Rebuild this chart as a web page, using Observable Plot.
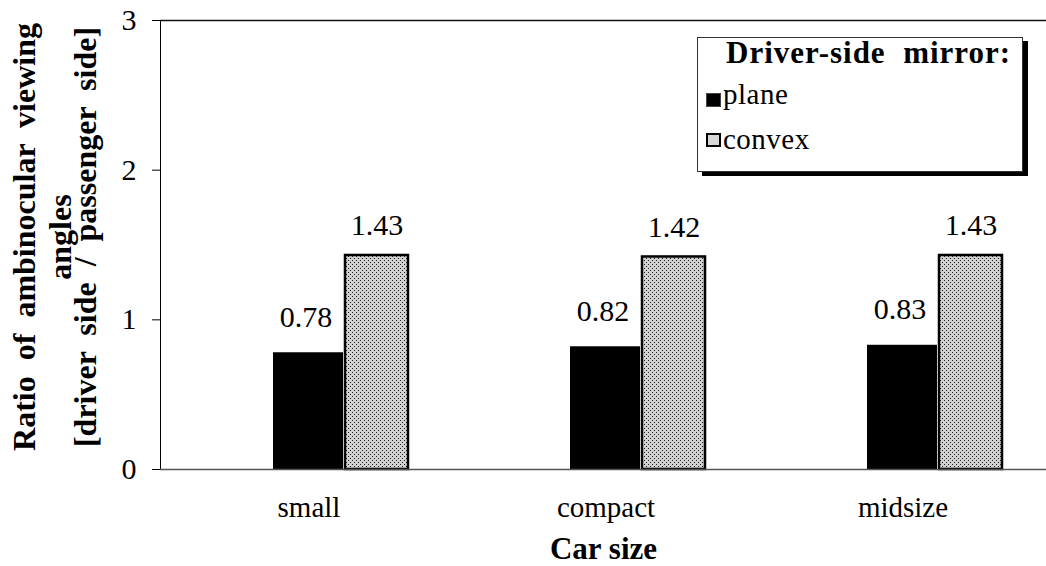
<!DOCTYPE html>
<html><head><meta charset="utf-8">
<script src="https://cdn.jsdelivr.net/npm/d3@7"></script>
<script src="https://cdn.jsdelivr.net/npm/@observablehq/plot@0.6"></script>
<style>
body{margin:0;background:#fff;}
#wrap{position:relative;width:1046px;height:566px;font-family:"Liberation Serif","Times New Roman",serif;color:#000;}
#wrap svg{position:absolute;left:0;top:0;}
#wrap svg text{font-family:"Liberation Serif","Times New Roman",serif;}
#legend{position:absolute;left:697px;top:37px;width:326px;height:135px;border:1px solid #333;box-shadow:5px 4px 0 #000;background:#fff;box-sizing:border-box;}
.lt{position:absolute;white-space:pre;line-height:1;}
.sw{position:absolute;width:15px;height:14px;box-sizing:border-box;}
</style>
</head><body>
<div id="wrap"></div>
<script>
const categories = ["small", "compact", "midsize"];
const seriesNames = ["plane", "convex"];
const planeValues = [0.78, 0.82, 0.83];
const convexValues = [1.43, 1.42, 1.43];
const yTicks = [0, 1, 2, 3];
const xTitle = "Car size";
const yTitleLines = ["Ratio  of  ambinocular  viewing", "angles", "[driver  side  /  passenger  side]"];
const legendTitle = "Driver-side  mirror:";

const rows = [];
categories.forEach((c, i) => {
  rows.push({cat: c, series: seriesNames[0], value: planeValues[i]});
  rows.push({cat: c, series: seriesNames[1], value: convexValues[i]});
});
const plane = rows.filter(d => d.series === "plane");
const convex = rows.filter(d => d.series === "convex");

const titleDx = [-136, -100, -75];
const titleMarks = yTitleLines.map((t, i) =>
  Plot.text([t], {frameAnchor: "left", textAnchor: "middle", lineAnchor: "middle", text: d => d, rotate: -90, dx: titleDx[i], dy: -8, fontSize: 32, fontWeight: "bold", fill: "#000"})
);

const font = "'Liberation Serif', 'Times New Roman', serif";
const chart = Plot.plot({
  width: 1046, height: 566,
  marginLeft: 160, marginRight: 0, marginTop: 20, marginBottom: 97,
  style: {fontFamily: font, background: "transparent", color: "#000"},
  x: {domain: categories, range: [194.5, 1085.5], padding: 0, label: null, tickSize: 0, tickPadding: 27},
  y: {domain: [0, 3], ticks: yTicks, label: null, tickSize: 8, tickPadding: 16, tickFormat: d3.format("d"), line: true},
  marks: [
    Plot.ruleY([3], {stroke: "#111", strokeWidth: 1.5}),
    Plot.barY(plane, {x: "cat", y: "value", fill: "#000", insetLeft: 78, insetRight: 149}),
    Plot.barY(convex, {x: "cat", y: "value", fill: "url(#stip)", stroke: "#000", strokeWidth: 2.5, insetLeft: 150, insetRight: 84}),
    Plot.ruleY([0], {stroke: "#555", strokeWidth: 1.5}),
    Plot.text(plane, {x: "cat", y: "value", text: d => d.value.toFixed(2), dx: -38, dy: -26, lineAnchor: "bottom", fontSize: 30, fill: "#000"}),
    Plot.text(convex, {x: "cat", y: "value", text: d => d.value.toFixed(2), dx: 33, dy: -20, lineAnchor: "bottom", fontSize: 30, fill: "#000"}),
    Plot.text([xTitle], {frameAnchor: "bottom", text: d => d, dy: 89, lineAnchor: "bottom", fontSize: 31, fontWeight: "bold", fill: "#000"}),
    ...titleMarks
  ]
});
d3.select(chart).selectAll("g[aria-label='x-axis tick label']").attr("font-size", 29);
d3.select(chart).selectAll("g[aria-label='x-axis tick label'] text").attr("dx", -35);
d3.select(chart).selectAll("g[aria-label='y-axis tick label']").attr("font-size", 30);
const defs = d3.select(chart).insert("defs", ":first-child");
const pat = defs.append("pattern").attr("id", "stip").attr("patternUnits", "userSpaceOnUse").attr("width", 4).attr("height", 4);
pat.append("rect").attr("width", 4).attr("height", 4).attr("fill", "#d0d0d0");
pat.append("rect").attr("x", 0).attr("y", 0).attr("width", 1).attr("height", 1).attr("fill", "#222");
pat.append("rect").attr("x", 2).attr("y", 2).attr("width", 1).attr("height", 1).attr("fill", "#222");
const wrap = document.getElementById("wrap");
wrap.appendChild(chart);

const lg = document.createElement("div");
lg.id = "legend";
wrap.appendChild(lg);
function addText(txt, left, top, size, bold, ls) {
  const s = document.createElement("div");
  s.className = "lt";
  s.textContent = txt;
  s.style.left = left + "px"; s.style.top = top + "px";
  s.style.fontSize = size + "px";
  if (bold) s.style.fontWeight = "bold";
  if (ls) s.style.letterSpacing = ls + "px";
  wrap.appendChild(s);
}
addText(legendTitle, 726, 37, 31, true, 1);
const swFill = ["#000", "#d8d8d8"];
const swBorder = ["1px solid #444", "2px solid #000"];
seriesNames.forEach((n, i) => {
  const sw = document.createElement("div");
  sw.className = "sw";
  sw.style.left = "706px"; sw.style.top = (93 + i * 40) + "px";
  sw.style.background = swFill[i]; sw.style.border = swBorder[i];
  wrap.appendChild(sw);
  addText(n, 723, 80 + i * 45, 29, false, 0.5);
});
</script>
</body></html>
